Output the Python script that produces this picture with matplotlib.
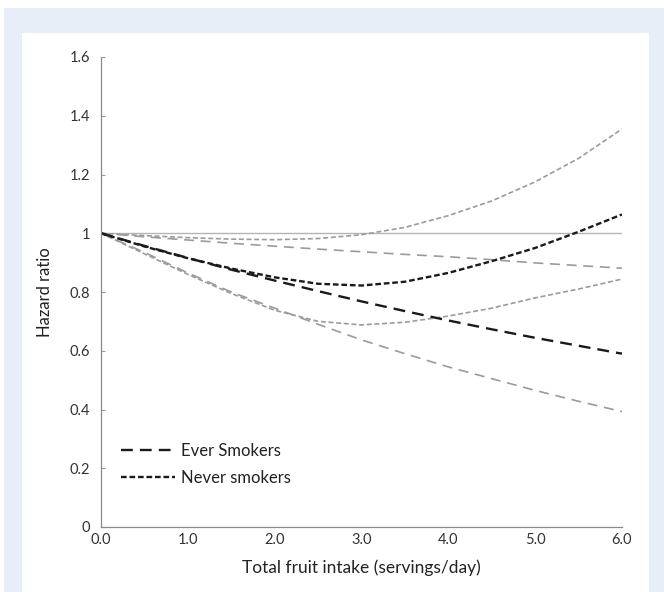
import matplotlib
matplotlib.use("Agg")
import matplotlib.pyplot as plt
from matplotlib.patches import Rectangle

plt.rcParams['font.family'] = ['Lato', 'DejaVu Sans']

# Data
x_vals = [0.0, 0.5, 1.0, 1.5, 2.0, 2.5, 3.0, 3.5, 4.0, 4.5, 5.0, 5.5, 6.0]
ever_hr = [1.0, 0.957, 0.916, 0.876, 0.839, 0.803, 0.768, 0.735, 0.703, 0.673, 0.644, 0.617, 0.590]
ever_upper = [1.0, 0.988, 0.977, 0.966, 0.956, 0.946, 0.937, 0.928, 0.920, 0.910, 0.899, 0.890, 0.881]
ever_lower = [1.0, 0.935, 0.865, 0.800, 0.745, 0.690, 0.637, 0.590, 0.545, 0.505, 0.465, 0.428, 0.393]
never_hr = [1.0, 0.955, 0.915, 0.880, 0.850, 0.828, 0.822, 0.835, 0.865, 0.905, 0.950, 1.005, 1.064]
never_upper = [1.0, 0.992, 0.985, 0.980, 0.978, 0.982, 0.995, 1.020, 1.060, 1.110, 1.175, 1.255, 1.355]
never_lower = [1.0, 0.930, 0.860, 0.795, 0.738, 0.700, 0.688, 0.697, 0.718, 0.745, 0.780, 0.810, 0.844]
ref_x = [0.0, 6.0]
ref_y = [1.0, 1.0]

x_ticks = [0, 1, 2, 3, 4, 5, 6]
x_ticklabels = ["0.0", "1.0", "2.0", "3.0", "4.0", "5.0", "6.0"]
y_ticks = [0, 0.2, 0.4, 0.6, 0.8, 1.0, 1.2, 1.4, 1.6]
y_ticklabels = ["0", "0.2", "0.4", "0.6", "0.8", "1", "1.2", "1.4", "1.6"]

W, H = 664, 592
fig = plt.figure(figsize=(W / 100, H / 100), dpi=100)
fig.patch.set_facecolor("white")

# background panels
fig.add_artist(Rectangle((4 / W, 0), (W - 4) / W, (H - 8) / H,
                         transform=fig.transFigure, facecolor="#e7eef8", edgecolor="none", zorder=-10))
fig.add_artist(Rectangle((22 / W, 0), (649 - 22) / W, (H - 33) / H,
                         transform=fig.transFigure, facecolor="white", edgecolor="none", zorder=-9))

ax_l, ax_r = 101, 622
ax_top, ax_bot = 57, 527
ax = fig.add_axes([ax_l / W, (H - ax_bot) / H, (ax_r - ax_l) / W, (ax_bot - ax_top) / H])
ax.set_facecolor("none")

gray = "#9b9b9b"
ax.plot(ref_x, ref_y, color="#b5b5b5", lw=1.0, solid_capstyle="butt")
ax.plot(x_vals, never_upper, color=gray, lw=1.2, dashes=(3, 1.6))
ax.plot(x_vals, never_lower, color=gray, lw=1.2, dashes=(3, 1.6))
ax.plot(x_vals, ever_upper, color=gray, lw=1.2, dashes=(6, 4))
ax.plot(x_vals, ever_lower, color=gray, lw=1.2, dashes=(6, 4))
l_ever, = ax.plot(x_vals, ever_hr, color="#1a1a1a", lw=1.7, dashes=(5, 3), label="Ever Smokers")
l_never, = ax.plot(x_vals, never_hr, color="#1a1a1a", lw=1.7, dashes=(2.4, 1.2), label="Never smokers")

ax.set_xlim(0, 6)
ax.set_ylim(0, 1.6)
ax.set_xticks(x_ticks)
ax.set_xticklabels(x_ticklabels)
ax.set_yticks(y_ticks)
ax.set_yticklabels(y_ticklabels)
ax.tick_params(axis="x", length=0, pad=4, labelsize=10.5, colors="#333333")
ax.tick_params(axis="y", length=3, direction="in", pad=8, labelsize=10.5, colors="#333333")
ax.tick_params(axis="y", color="#999999")
for s in ["top", "right"]:
    ax.spines[s].set_visible(False)
for s in ["left", "bottom"]:
    ax.spines[s].set_color("#8a8a8a")
    ax.spines[s].set_linewidth(0.9)

ax.set_xlabel("Total fruit intake (servings/day)", fontsize=12.5, color="#222222", labelpad=9)
ax.set_ylabel("Hazard ratio", fontsize=12, color="#222222", labelpad=12)

leg = ax.legend(handles=[l_ever, l_never], loc="lower left", bbox_to_anchor=(0.01, 0.055),
                frameon=False, fontsize=12, handlelength=3.2, handletextpad=0.4, labelspacing=0.65)
for t in leg.get_texts():
    t.set_color("#222222")

fig.savefig("out.png", dpi=100)
